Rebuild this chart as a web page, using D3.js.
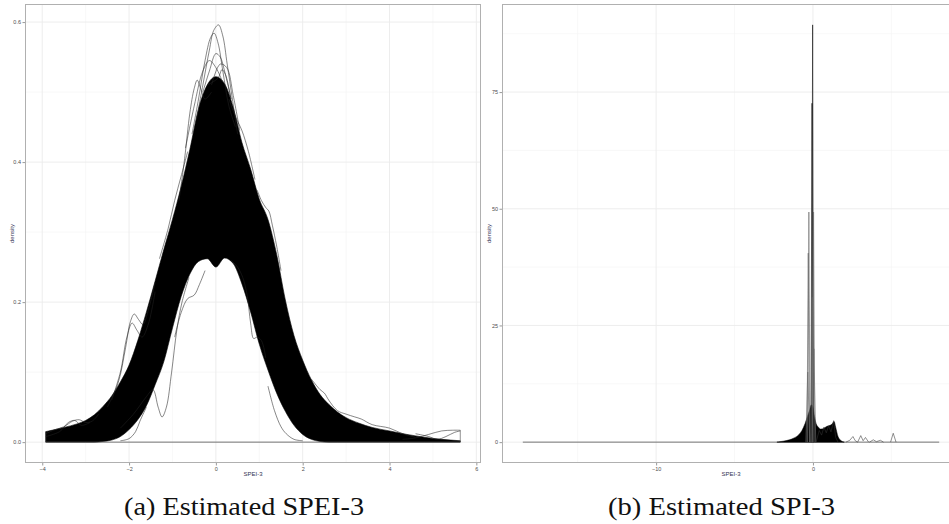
<!DOCTYPE html>
<html><head><meta charset="utf-8">
<script src="https://cdn.jsdelivr.net/npm/d3@7"></script>
<style>body{margin:0;background:#fff}svg{display:block}</style>
</head><body>
<svg id="c" width="949" height="524"></svg>
<script>
// ---------- Panel (a): SPEI-3 ----------
const speiTicksX = [-4, -2, 0, 2, 4, 6];
const speiTicksY = [0.0, 0.2, 0.4, 0.6];
const speiRange = [-3.92, 5.63];
const speiX =     [-3.92,-3.7,-3.5,-3.2,-3.0,-2.8,-2.6,-2.4,-2.2,-2.0,-1.8,-1.6,-1.4,-1.2,-1.0,-0.8,-0.6,-0.4,-0.2,0,0.2,0.4,0.6,0.8,1.0,1.2,1.4,1.6,1.8,2.0,2.2,2.4,2.6,2.8,3.0,3.3,3.6,4.0,4.4,4.8,5.2,5.63];
const speiUpper = [0.015,0.018,0.021,0.026,0.031,0.039,0.051,0.066,0.086,0.11,0.145,0.186,0.23,0.275,0.318,0.365,0.418,0.476,0.51,0.522,0.512,0.478,0.428,0.39,0.347,0.318,0.268,0.203,0.152,0.117,0.089,0.068,0.054,0.043,0.035,0.027,0.021,0.016,0.011,0.007,0.004,0.002];
const speiLower = [0,0,0,0,0,0,0.001,0.003,0.008,0.018,0.032,0.052,0.082,0.115,0.163,0.208,0.24,0.258,0.262,0.25,0.263,0.255,0.226,0.186,0.14,0.103,0.07,0.044,0.024,0.011,0.004,0.001,0,0,0,0,0,0,0,0,0,0];
const speiCurves = [
  [[-0.45,0.46],[-0.3,0.51],[-0.15,0.56],[-0.05,0.588],[0.06,0.596],[0.16,0.58],[0.26,0.54],[0.38,0.49],[0.5,0.44]],
  [[-0.55,0.44],[-0.4,0.49],[-0.25,0.545],[-0.12,0.578],[-0.04,0.584],[0.05,0.57],[0.16,0.53],[0.3,0.48],[0.45,0.45]],
  [[-0.85,0.345],[-0.72,0.405],[-0.6,0.47],[-0.5,0.505],[-0.43,0.517],[-0.35,0.505],[-0.25,0.49],[-0.1,0.5]],
  [[-0.3,0.5],[-0.15,0.53],[0.0,0.555],[0.1,0.55],[0.2,0.53],[0.35,0.49]],
  [[-0.2,0.51],[0.05,0.52],[0.14,0.532],[0.22,0.525],[0.35,0.49]],
  [[-0.7,0.42],[-0.5,0.48],[-0.3,0.53],[-0.15,0.545],[0.0,0.535],[0.15,0.515]],
  [[-0.1,0.51],[0.1,0.54],[0.25,0.535],[0.4,0.495],[0.55,0.445]],
  [[0.3,0.49],[0.45,0.465],[0.6,0.445],[0.75,0.415],[0.9,0.375]],
  [[-1.3,0.262],[-1.1,0.305],[-0.95,0.345],[-0.8,0.38],[-0.65,0.415]],
  [[-2.5,0.05],[-2.25,0.085],[-2.08,0.135],[-1.97,0.172],[-1.88,0.183],[-1.78,0.175],[-1.68,0.168],[-1.55,0.19],[-1.4,0.228]],
  [[-2.4,0.06],[-2.2,0.1],[-2.05,0.15],[-1.93,0.17],[-1.82,0.16],[-1.7,0.15],[-1.55,0.17],[-1.4,0.215]],
  [[-2.2,0.02],[-1.9,0.04],[-1.6,0.065],[-1.45,0.075],[-1.33,0.05],[-1.24,0.036],[-1.14,0.05],[-1.02,0.1],[-0.9,0.16],[-0.78,0.2],[-0.62,0.235]],
  [[-3.92,0.012],[-3.7,0.018],[-3.5,0.022],[-3.3,0.03],[-3.15,0.032],[-3.0,0.028],[-2.85,0.03],[-2.7,0.04]],
  [[-3.92,0.008],[-3.6,0.015],[-3.4,0.028],[-3.25,0.031],[-3.1,0.024],[-2.9,0.028]],
  [[-0.95,0.15],[-0.8,0.185],[-0.65,0.205],[-0.5,0.21],[-0.38,0.225],[-0.25,0.245]],
  [[0.35,0.26],[0.5,0.25],[0.62,0.235],[0.72,0.21],[0.8,0.17],[0.87,0.148],[0.95,0.15],[1.05,0.145],[1.15,0.12]],
  [[0.95,0.36],[1.05,0.345],[1.15,0.335],[1.22,0.33],[1.3,0.31],[1.4,0.28],[1.5,0.245]],
  [[2.2,0.09],[2.4,0.075],[2.5,0.07],[2.6,0.06],[2.8,0.045],[3.0,0.04],[3.2,0.036],[3.35,0.033],[3.6,0.025],[4.0,0.02],[4.3,0.012],[4.6,0.007]],
  [[4.3,0.004],[4.6,0.006],[4.9,0.011],[5.2,0.016],[5.45,0.017],[5.63,0.017]],
  [[4.6,0.012],[4.9,0.008],[5.1,0.004],[5.3,0.008],[5.5,0.014],[5.63,0.016]],
  [[1.2,0.08],[1.35,0.045],[1.5,0.022],[1.62,0.012],[1.8,0.004],[2.0,0.002]],
  [[-2.2,0.002],[-2.0,0.005],[-1.85,0.015],[-1.75,0.03],[-1.6,0.05]]
];
const speiEdges = [[[-3.92,0],[-3.92,0.015]],[[5.63,0],[5.63,0.017]]];

// ---------- Panel (b): SPI-3 ----------
const spiTicksX = [-10, 0];
const spiTicksY = [0, 25, 50, 75];
const spiRange = [-18.5, 8.05];
const spiClutterX = [-2.3,-1.9,-1.5,-1.2,-0.9,-0.7,-0.5,-0.35,-0.2,-0.1,0,0.1,0.2,0.35,0.5,0.7,0.9,1.1,1.25,1.35,1.45,1.6,1.8,2.0];
const spiClutterY = [0,0.2,0.5,0.9,1.6,2.5,4,5.5,7,8,7.5,5.5,4,3.2,2.8,3.0,3.4,3.6,4.0,4.4,3.2,1.2,0.3,0];
const spiSpikes = [
  [[-0.09,0],[-0.02,89.4],[0.04,0]],
  [[-0.13,0],[-0.06,72.6],[0.01,0]],
  [[-0.34,0],[-0.26,49.3],[-0.18,0]],
  [[-0.04,0],[0.04,49.3],[0.12,0]],
  [[-0.38,0],[-0.3,40.5],[-0.22,0]],
  [[-0.12,0],[-0.05,31],[0.02,0]],
  [[-0.45,0],[-0.33,15],[-0.2,0]],
  [[-0.05,0],[0.06,20],[0.18,0]]
];
const spiWiggles = [
  [[0.2,0],[0.4,2.5],[0.55,1.5],[0.7,3.2],[0.85,2],[1.0,3.5],[1.15,2.2],[1.32,4.6],[1.45,1.0],[1.6,0]],
  [[2.1,0],[2.35,0.4],[2.55,1.2],[2.7,0.3],[2.85,0]],
  [[2.85,0],[3.05,1.4],[3.2,0.3],[3.35,1.0],[3.55,0]],
  [[3.6,0],[3.85,0.5],[4.05,0.1],[4.3,0.4],[4.5,0]],
  [[4.95,0],[5.12,1.9],[5.3,0]]
];
const captions = ["(a) Estimated SPEI-3", "(b) Estimated SPI-3"];

const svg = d3.select("#c");

function expand(lo, hi) { const e = (hi - lo) * 0.05; return [lo - e, hi + e]; }

function panel(opts) {
  const {x0, x1, y0, y1, xDom, yDom, xTicks, yTicks, xMinor, yMinor, fmtY, id, xLabelX, yLabelX} = opts;
  const x = d3.scaleLinear().domain(xDom).range([x0, x1]);
  const y = d3.scaleLinear().domain(yDom).range([y1, y0]);
  const g = svg.append("g");
  g.append("clipPath").attr("id", id).append("rect")
    .attr("x", x0).attr("y", y0).attr("width", x1 - x0).attr("height", y1 - y0);
  const grid = g.append("g").attr("clip-path", `url(#${id})`);
  xMinor.forEach(v => grid.append("line").attr("x1", x(v)).attr("x2", x(v)).attr("y1", y0).attr("y2", y1).attr("stroke", "#f4f4f4").attr("stroke-width", 0.6));
  yMinor.forEach(v => grid.append("line").attr("y1", y(v)).attr("y2", y(v)).attr("x1", x0).attr("x2", x1).attr("stroke", "#f4f4f4").attr("stroke-width", 0.6));
  xTicks.forEach(v => grid.append("line").attr("x1", x(v)).attr("x2", x(v)).attr("y1", y0).attr("y2", y1).attr("stroke", "#ebebeb").attr("stroke-width", 0.9));
  yTicks.forEach(v => grid.append("line").attr("y1", y(v)).attr("y2", y(v)).attr("x1", x0).attr("x2", x1).attr("stroke", "#ebebeb").attr("stroke-width", 0.9));
  const plot = g.append("g").attr("clip-path", `url(#${id})`);
  const ax = g.append("g").attr("transform", `translate(0,${y1})`)
    .call(d3.axisBottom(x).tickValues(xTicks).tickSize(2.5).tickPadding(1.5));
  const ay = g.append("g").attr("transform", `translate(${x0},0)`)
    .call(d3.axisLeft(y).tickValues(yTicks).tickSize(2.5).tickPadding(1.5).tickFormat(fmtY));
  [ax, ay].forEach(a => {
    a.select(".domain").remove();
    a.selectAll(".tick line").attr("stroke", "#555").attr("stroke-width", 0.6);
    a.selectAll(".tick text").attr("fill", "#4d4d4d").style("font-family", "Liberation Sans, Arial, sans-serif").style("font-size", "5.5px");
  });
  g.append("rect").attr("x", x0 + 0.5).attr("y", y0 + 0.5).attr("width", x1 - x0 - 1).attr("height", y1 - y0 - 1)
    .attr("fill", "none").attr("stroke", "#b0b0b0").attr("stroke-width", 1);
  g.append("text").attr("x", xLabelX).attr("y", 476).attr("text-anchor", "middle")
    .style("font-family", "Liberation Sans, Arial, sans-serif").style("font-size", "6px").attr("fill", "#333355").text("SPEI-3");
  g.append("text").attr("transform", `translate(${yLabelX},${(y0 + y1) / 2}) rotate(-90)`).attr("text-anchor", "middle")
    .style("font-family", "Liberation Sans, Arial, sans-serif").style("font-size", "6px").attr("fill", "#333355").text("density");
  return {x, y, plot};
}

// Panel (a)
const A = panel({x0: 25, x1: 481, y0: 4, y1: 463,
  xDom: expand(speiRange[0], speiRange[1]), yDom: expand(0, 0.596),
  xTicks: speiTicksX, yTicks: speiTicksY, xMinor: [-5,-3,-1,1,3,5], yMinor: [0.1,0.3,0.5],
  fmtY: d3.format(".1f"), id: "clipA", xLabelX: 253, yLabelX: 14});

const envA = speiX.map((v, i) => ({x: v, hi: speiUpper[i], lo: speiLower[i]}));
A.plot.append("path").datum(envA)
  .attr("d", d3.area().x(d => A.x(d.x)).y0(d => A.y(d.lo)).y1(d => A.y(d.hi)).curve(d3.curveMonotoneX))
  .attr("fill", "#000").attr("stroke", "#000").attr("stroke-width", 0.6);
const lineA = d3.line().x(d => A.x(d[0])).y(d => A.y(d[1])).curve(d3.curveCatmullRom);
speiCurves.forEach(c => A.plot.append("path").attr("d", lineA(c)).attr("fill", "none").attr("stroke", "#222").attr("stroke-width", 0.55));
speiEdges.forEach(c => A.plot.append("path").attr("d", d3.line().x(d => A.x(d[0])).y(d => A.y(d[1]))(c)).attr("fill", "none").attr("stroke", "#444").attr("stroke-width", 0.6));
A.plot.append("line").attr("x1", A.x(speiRange[0])).attr("x2", A.x(speiRange[1])).attr("y1", A.y(0)).attr("y2", A.y(0))
  .attr("stroke", "#555").attr("stroke-width", 0.8);

// Panel (b)
const B = panel({x0: 502, x1: 960, y0: 4, y1: 463,
  xDom: expand(spiRange[0], spiRange[1]), yDom: expand(0, 89.4),
  xTicks: spiTicksX, yTicks: spiTicksY, xMinor: [-15,-5,5], yMinor: [12.5,37.5,62.5,87.5],
  fmtY: d3.format("d"), id: "clipB", xLabelX: 731, yLabelX: 491});

B.plot.append("line").attr("x1", B.x(spiRange[0])).attr("x2", B.x(spiRange[1])).attr("y1", B.y(0)).attr("y2", B.y(0))
  .attr("stroke", "#555").attr("stroke-width", 0.8);
const envB = spiClutterX.map((v, i) => [v, spiClutterY[i]]);
B.plot.append("path").datum(envB)
  .attr("d", d3.area().x(d => B.x(d[0])).y0(B.y(0)).y1(d => B.y(d[1])).curve(d3.curveMonotoneX))
  .attr("fill", "#000").attr("stroke", "#000").attr("stroke-width", 0.5);
const lineB = d3.line().x(d => B.x(d[0])).y(d => B.y(d[1]));
spiSpikes.forEach((c, i) => B.plot.append("path").attr("d", lineB(c)).attr("fill", "none")
  .attr("stroke", i < 2 ? "#111" : "#666").attr("stroke-width", 0.6));
spiWiggles.forEach(c => B.plot.append("path").attr("d", lineB(c)).attr("fill", "none").attr("stroke", "#333").attr("stroke-width", 0.55));

// Captions
[[244, 240], [721.5, 227]].forEach(([cx, w], i) => {
  svg.append("text").attr("x", cx - w / 2).attr("y", 515)
    .attr("textLength", w).attr("lengthAdjust", "spacingAndGlyphs")
    .style("font-family", "Liberation Serif, serif").style("font-size", "25px").attr("fill", "#111").text(captions[i]);
});
</script>
</body></html>
